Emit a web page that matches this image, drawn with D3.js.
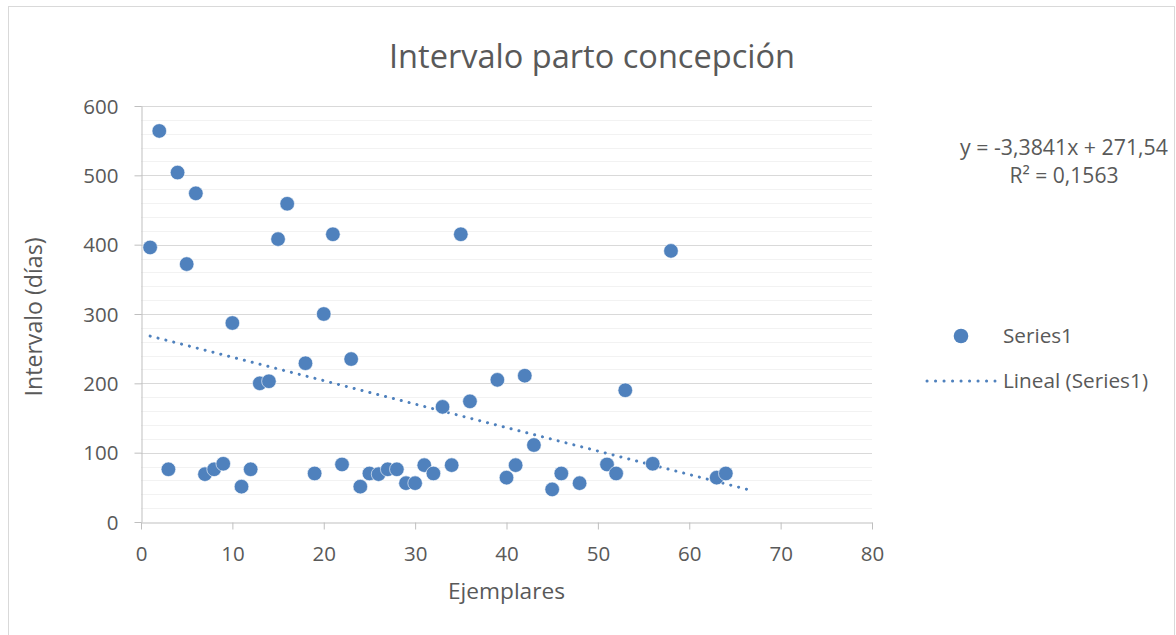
<!DOCTYPE html>
<html>
<head>
<meta charset="utf-8">
<script src="https://cdn.jsdelivr.net/npm/d3@7"></script>
<style>
  html, body { margin: 0; padding: 0; background: #fff; }
  svg { display: block; }
  text { font-family: "Open Sans", "Noto Sans", sans-serif; fill: #595959; }
</style>
</head>
<body>
<svg id="chart" width="1176" height="635"></svg>
<script>
// ---- data ----
const ejemplares = [1,2,3,4,5,6,7,8,9,10,11,12,13,14,15,16,
  18,19,20,21,22,23,24,25,26,27,28,29,30,31,32,33,34,35,36,
  39,40,41,42,43,45,46,48,51,52,53,56,58,63,64];
const intervalo = [396,564,76,504,372,474,69,76,84,287,51,76,200,203,408,459,
  229,70,300,415,83,235,51,70,69,76,76,56,56,82,70,166,82,415,174,
  205,64,82,211,111,47,70,56,83,70,190,84,391,64,70];
const trendSlope = -3.3841;
const trendIntercept = 271.54;
const trendRange = [1, 67];
const xTicks = [0,10,20,30,40,50,60,70,80];
const yTicks = [0,100,200,300,400,500,600];
const yMinor = d3.range(0, 601, 20);
const titleText = "Intervalo parto concepción";
const xTitle = "Ejemplares";
const yTitle = "Intervalo (días)";
const seriesName = "Series1";
const trendName = "Lineal (Series1)";
const eqLines = ["y = -3,3841x + 271,54", "R² = 0,1563"];

// ---- layout ----
const svg = d3.select("#chart");
const blue = "#4f81bd";
const x = d3.scaleLinear().domain([0, 80]).range([141, 872]);
const y = d3.scaleLinear().domain([0, 600]).range([522, 106]);

function fit(sel, w) {
  const n = sel.node();
  const fs = parseFloat(sel.attr("font-size"));
  const len = n.getComputedTextLength();
  sel.attr("font-size", (fs * w / len).toFixed(2));
  return sel;
}

// outer border
svg.append("rect").attr("x", 8.5).attr("y", 6.5).attr("width", 1166).attr("height", 640)
  .attr("fill", "#fff").attr("stroke", "#d9d9d9").attr("stroke-width", 1);

// minor gridlines
svg.append("g").selectAll("line").data(yMinor.filter(v => v % 100 !== 0)).join("line")
  .attr("x1", x(0)).attr("x2", x(80))
  .attr("y1", d => Math.round(y(d)) + 0.5).attr("y2", d => Math.round(y(d)) + 0.5)
  .attr("stroke", "#f2f2f2").attr("stroke-width", 1);

// major gridlines
svg.append("g").selectAll("line").data(yTicks.filter(v => v > 0)).join("line")
  .attr("x1", x(0)).attr("x2", x(80))
  .attr("y1", d => Math.round(y(d)) + 0.5).attr("y2", d => Math.round(y(d)) + 0.5)
  .attr("stroke", "#d9d9d9").attr("stroke-width", 1);

// axes
const xAxis = svg.append("g").attr("transform", `translate(0,${Math.round(y(0)) + 0.5})`)
  .call(d3.axisBottom(x).tickValues(xTicks).tickSize(7).tickSizeOuter(0).tickFormat(d3.format("d")));
const yAxis = svg.append("g").attr("transform", `translate(${Math.round(x(0)) + 0.5},0)`)
  .call(d3.axisLeft(y).tickValues(yTicks).tickSize(7).tickSizeOuter(0).tickFormat(d3.format("d")));
[xAxis, yAxis].forEach(g => {
  g.select(".domain").attr("stroke", "#bfbfbf").attr("stroke-width", 1);
  g.selectAll(".tick line").attr("stroke", "#bfbfbf");
  g.selectAll(".tick text").attr("font-family", null).attr("font-size", 20.5).attr("fill", "#595959");
});
xAxis.selectAll(".tick text").attr("dy", null).attr("y", 38);
yAxis.selectAll(".tick text").attr("dy", "0.35em").attr("x", -23);
xAxis.attr("font-family", null); yAxis.attr("font-family", null);

// trendline
const trendData = trendRange.map(v => [v, trendSlope * v + trendIntercept]);
svg.append("path").datum(trendData)
  .attr("d", d3.line().x(d => x(d[0])).y(d => y(d[1])))
  .attr("fill", "none").attr("stroke", blue).attr("stroke-width", 3)
  .attr("stroke-linecap", "round").attr("stroke-dasharray", "0.1 8");

// points
svg.append("g").selectAll("circle").data(ejemplares.map((v, i) => [v, intervalo[i]])).join("circle")
  .attr("cx", d => x(d[0])).attr("cy", d => y(d[1])).attr("r", 7.3)
  .attr("fill", blue).attr("stroke", "#fff").attr("stroke-width", 0.6);

// title
fit(svg.append("text").attr("x", 592).attr("y", 68).attr("text-anchor", "middle")
  .attr("font-size", 30).text(titleText), 406);

// axis titles
fit(svg.append("text").attr("x", 506.5).attr("y", 599).attr("text-anchor", "middle")
  .attr("font-size", 20).text(xTitle), 117);
fit(svg.append("text").attr("transform", "translate(42,317) rotate(-90)").attr("text-anchor", "middle")
  .attr("font-size", 20).text(yTitle), 159);

// equation
eqLines.forEach((t, i) => {
  fit(svg.append("text").attr("x", 1064).attr("y", 155 + i * 28).attr("text-anchor", "middle")
    .attr("font-size", 20).text(t), i === 0 ? 208 : 109);
});

// legend
svg.append("circle").attr("cx", x(0) + 0 + 820).attr("cy", 336).attr("r", 7.3).attr("fill", blue);
fit(svg.append("text").attr("x", 1003).attr("y", 336).attr("dy", "0.35em")
  .attr("font-size", 20).text(seriesName), 70);
svg.append("line").attr("x1", 927).attr("x2", 995).attr("y1", 381).attr("y2", 381)
  .attr("stroke", blue).attr("stroke-width", 3).attr("stroke-linecap", "round").attr("stroke-dasharray", "0.1 8.4");
fit(svg.append("text").attr("x", 1003).attr("y", 381).attr("dy", "0.35em")
  .attr("font-size", 20).text(trendName), 145);
</script>
</body>
</html>
